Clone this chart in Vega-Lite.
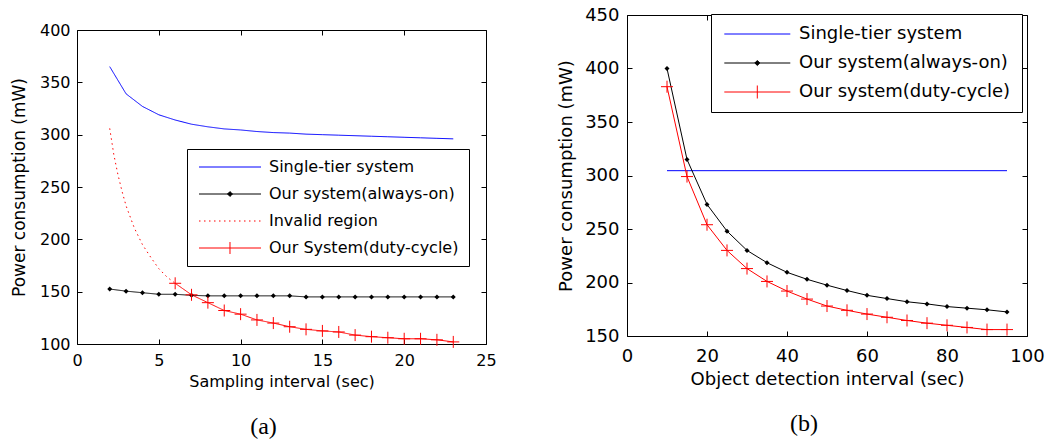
{
  "$schema": "https://vega.github.io/schema/vega-lite/v6.json",
  "padding": {"left": 9, "top": 5, "right": 0, "bottom": 0},
  "background": "white",
  "spacing": 60,
  "datasets": {
    "a": [
      {"s": "Single-tier system", "x": 2, "y": 365},
      {"s": "Single-tier system", "x": 3, "y": 339},
      {"s": "Single-tier system", "x": 4, "y": 327},
      {"s": "Single-tier system", "x": 5, "y": 319},
      {"s": "Single-tier system", "x": 6, "y": 314},
      {"s": "Single-tier system", "x": 7, "y": 310},
      {"s": "Single-tier system", "x": 8, "y": 307.5},
      {"s": "Single-tier system", "x": 9, "y": 305.5},
      {"s": "Single-tier system", "x": 10, "y": 304.5},
      {"s": "Single-tier system", "x": 11, "y": 303},
      {"s": "Single-tier system", "x": 12, "y": 302},
      {"s": "Single-tier system", "x": 13, "y": 301.5},
      {"s": "Single-tier system", "x": 14, "y": 300.5},
      {"s": "Single-tier system", "x": 15, "y": 300},
      {"s": "Single-tier system", "x": 16, "y": 299.5},
      {"s": "Single-tier system", "x": 17, "y": 299},
      {"s": "Single-tier system", "x": 18, "y": 298.5},
      {"s": "Single-tier system", "x": 19, "y": 298},
      {"s": "Single-tier system", "x": 20, "y": 297.5},
      {"s": "Single-tier system", "x": 21, "y": 297},
      {"s": "Single-tier system", "x": 22, "y": 296.5},
      {"s": "Single-tier system", "x": 23, "y": 296},
      {"s": "Our system(always-on)", "x": 2, "y": 152.5},
      {"s": "Our system(always-on)", "x": 3, "y": 150.5},
      {"s": "Our system(always-on)", "x": 4, "y": 149},
      {"s": "Our system(always-on)", "x": 5, "y": 147.5},
      {"s": "Our system(always-on)", "x": 6, "y": 147.5},
      {"s": "Our system(always-on)", "x": 7, "y": 146.5},
      {"s": "Our system(always-on)", "x": 8, "y": 146},
      {"s": "Our system(always-on)", "x": 9, "y": 146},
      {"s": "Our system(always-on)", "x": 10, "y": 146},
      {"s": "Our system(always-on)", "x": 11, "y": 146},
      {"s": "Our system(always-on)", "x": 12, "y": 146},
      {"s": "Our system(always-on)", "x": 13, "y": 146},
      {"s": "Our system(always-on)", "x": 14, "y": 145},
      {"s": "Our system(always-on)", "x": 15, "y": 145},
      {"s": "Our system(always-on)", "x": 16, "y": 145},
      {"s": "Our system(always-on)", "x": 17, "y": 145},
      {"s": "Our system(always-on)", "x": 18, "y": 145},
      {"s": "Our system(always-on)", "x": 19, "y": 145},
      {"s": "Our system(always-on)", "x": 20, "y": 145},
      {"s": "Our system(always-on)", "x": 21, "y": 145},
      {"s": "Our system(always-on)", "x": 22, "y": 145},
      {"s": "Our system(always-on)", "x": 23, "y": 145},
      {"s": "Invalid region", "x": 2, "y": 306},
      {"s": "Invalid region", "x": 2.25, "y": 281},
      {"s": "Invalid region", "x": 2.5, "y": 262},
      {"s": "Invalid region", "x": 2.75, "y": 246},
      {"s": "Invalid region", "x": 3, "y": 232},
      {"s": "Invalid region", "x": 3.5, "y": 211},
      {"s": "Invalid region", "x": 4, "y": 195},
      {"s": "Invalid region", "x": 4.5, "y": 183},
      {"s": "Invalid region", "x": 5, "y": 172},
      {"s": "Invalid region", "x": 5.5, "y": 164},
      {"s": "Invalid region", "x": 6, "y": 158},
      {"s": "Our System(duty-cycle)", "x": 6, "y": 158},
      {"s": "Our System(duty-cycle)", "x": 7, "y": 147},
      {"s": "Our System(duty-cycle)", "x": 8, "y": 139.5},
      {"s": "Our System(duty-cycle)", "x": 9, "y": 132},
      {"s": "Our System(duty-cycle)", "x": 10, "y": 128.5},
      {"s": "Our System(duty-cycle)", "x": 11, "y": 123},
      {"s": "Our System(duty-cycle)", "x": 12, "y": 120},
      {"s": "Our System(duty-cycle)", "x": 13, "y": 116.5},
      {"s": "Our System(duty-cycle)", "x": 14, "y": 114},
      {"s": "Our System(duty-cycle)", "x": 15, "y": 112.5},
      {"s": "Our System(duty-cycle)", "x": 16, "y": 111.5},
      {"s": "Our System(duty-cycle)", "x": 17, "y": 108.5},
      {"s": "Our System(duty-cycle)", "x": 18, "y": 107},
      {"s": "Our System(duty-cycle)", "x": 19, "y": 106},
      {"s": "Our System(duty-cycle)", "x": 20, "y": 105},
      {"s": "Our System(duty-cycle)", "x": 21, "y": 105},
      {"s": "Our System(duty-cycle)", "x": 22, "y": 104},
      {"s": "Our System(duty-cycle)", "x": 23, "y": 102}
    ],
    "b": [
      {"s": "Single-tier system", "x": 10, "y": 304.5},
      {"s": "Single-tier system", "x": 15, "y": 304.5},
      {"s": "Single-tier system", "x": 20, "y": 304.5},
      {"s": "Single-tier system", "x": 25, "y": 304.5},
      {"s": "Single-tier system", "x": 30, "y": 304.5},
      {"s": "Single-tier system", "x": 35, "y": 304.5},
      {"s": "Single-tier system", "x": 40, "y": 304.5},
      {"s": "Single-tier system", "x": 45, "y": 304.5},
      {"s": "Single-tier system", "x": 50, "y": 304.5},
      {"s": "Single-tier system", "x": 55, "y": 304.5},
      {"s": "Single-tier system", "x": 60, "y": 304.5},
      {"s": "Single-tier system", "x": 65, "y": 304.5},
      {"s": "Single-tier system", "x": 70, "y": 304.5},
      {"s": "Single-tier system", "x": 75, "y": 304.5},
      {"s": "Single-tier system", "x": 80, "y": 304.5},
      {"s": "Single-tier system", "x": 85, "y": 304.5},
      {"s": "Single-tier system", "x": 90, "y": 304.5},
      {"s": "Single-tier system", "x": 95, "y": 304.5},
      {"s": "Our system(always-on)", "x": 10, "y": 400},
      {"s": "Our system(always-on)", "x": 15, "y": 315},
      {"s": "Our system(always-on)", "x": 20, "y": 273},
      {"s": "Our system(always-on)", "x": 25, "y": 248},
      {"s": "Our system(always-on)", "x": 30, "y": 230},
      {"s": "Our system(always-on)", "x": 35, "y": 218.5},
      {"s": "Our system(always-on)", "x": 40, "y": 209.5},
      {"s": "Our system(always-on)", "x": 45, "y": 203},
      {"s": "Our system(always-on)", "x": 50, "y": 197.5},
      {"s": "Our system(always-on)", "x": 55, "y": 192.5},
      {"s": "Our system(always-on)", "x": 60, "y": 188},
      {"s": "Our system(always-on)", "x": 65, "y": 185},
      {"s": "Our system(always-on)", "x": 70, "y": 182},
      {"s": "Our system(always-on)", "x": 75, "y": 180},
      {"s": "Our system(always-on)", "x": 80, "y": 177.5},
      {"s": "Our system(always-on)", "x": 85, "y": 176},
      {"s": "Our system(always-on)", "x": 90, "y": 174.5},
      {"s": "Our system(always-on)", "x": 95, "y": 172.5},
      {"s": "Our system(duty-cycle)", "x": 10, "y": 383},
      {"s": "Our system(duty-cycle)", "x": 15, "y": 299},
      {"s": "Our system(duty-cycle)", "x": 20, "y": 254},
      {"s": "Our system(duty-cycle)", "x": 25, "y": 230},
      {"s": "Our system(duty-cycle)", "x": 30, "y": 213},
      {"s": "Our system(duty-cycle)", "x": 35, "y": 201},
      {"s": "Our system(duty-cycle)", "x": 40, "y": 192},
      {"s": "Our system(duty-cycle)", "x": 45, "y": 184.5},
      {"s": "Our system(duty-cycle)", "x": 50, "y": 178},
      {"s": "Our system(duty-cycle)", "x": 55, "y": 174},
      {"s": "Our system(duty-cycle)", "x": 60, "y": 170.5},
      {"s": "Our system(duty-cycle)", "x": 65, "y": 167.5},
      {"s": "Our system(duty-cycle)", "x": 70, "y": 164.5},
      {"s": "Our system(duty-cycle)", "x": 75, "y": 162},
      {"s": "Our system(duty-cycle)", "x": 80, "y": 160},
      {"s": "Our system(duty-cycle)", "x": 85, "y": 158},
      {"s": "Our system(duty-cycle)", "x": 90, "y": 156},
      {"s": "Our system(duty-cycle)", "x": 95, "y": 156}
    ]
  },
  "hconcat": [
    {
      "spacing": 5,
      "resolve": {"scale": {"color": "independent", "strokeDash": "independent"}, "legend": {"color": "independent"}},
      "vconcat": [
        {
          "width": 1,
          "height": 1,
          "view": {"stroke": null},
          "data": {"values": [{"k": 1}]},
          "mark": {"type": "point", "opacity": 0, "size": 0},
          "encoding": {}
        },
        {
          "width": 409,
          "height": 314,
          "data": {"name": "a"},
          "title": {"text": "(a)", "orient": "bottom", "frame": "group", "anchor": "middle", "dx": -18, "offset": 26, "font": "Liberation Serif", "fontSize": 24, "fontWeight": "normal", "color": "black"},
          "layer": [
            {
              "mark": {"type": "line", "strokeWidth": 1},
              "encoding": {
                "x": {"field": "x", "type": "quantitative", "scale": {"domain": [0, 25], "nice": false, "zero": false},
                      "axis": {"title": "Sampling interval (sec)", "values": [0, 5, 10, 15, 20, 25], "labelPadding": 8, "titlePadding": 5}},
                "y": {"field": "y", "type": "quantitative", "scale": {"domain": [100, 400], "nice": false, "zero": false},
                      "axis": {"title": "Power consumption (mW)", "titleFontSize": 17, "values": [100, 150, 200, 250, 300, 350, 400], "labelPadding": 7, "titlePadding": 11}},
                "color": {"field": "s", "type": "nominal",
                          "scale": {"domain": ["Single-tier system", "Our system(always-on)", "Invalid region", "Our System(duty-cycle)"], "range": ["#0000ff", "#000000", "#ff0000", "#ff0000"]},
                          "legend": {"orient": "none", "legendX": 110, "legendY": 119, "padding": 10, "title": null,
                                     "strokeColor": "black", "fillColor": "white", "cornerRadius": 0,
                                     "symbolType": "M-0.857,0H8", "symbolSize": 196, "symbolStrokeWidth": 1,
                                     "labelFont": "DejaVu Sans", "labelFontSize": 16, "labelColor": "black", "labelOffset": 56, "labelLimit": 400,
                                     "labelExpr": "datum.label + '  '",
                                     "rowPadding": 11,
                                     "encode": {"symbols": {"update": {
                                       "shape": [
                                         {"test": "datum.value === 'Our system(always-on)'", "value": "M-0.857,0H8M3.571,-0.357L3.928,0L3.571,0.357L3.214,0Z"},
                                         {"test": "datum.value === 'Our System(duty-cycle)'", "value": "M-0.857,0H8M3.571,-0.857V0.857"},
                                         {"value": "M-0.857,0H8"}
                                       ],
                                       "fill": [{"test": "datum.value === 'Our system(always-on)'", "value": "black"}, {"value": "transparent"}],
                                       "strokeDash": [{"test": "datum.value === 'Invalid region'", "value": [1.5, 3.5]}, {"value": [1, 0]}],
                                       "strokeWidth": {"value": 1},
                                       "opacity": {"value": 1}
                                     }}}}},
                "strokeDash": {"field": "s", "type": "nominal",
                               "scale": {"domain": ["Single-tier system", "Our system(always-on)", "Invalid region", "Our System(duty-cycle)"], "range": [[1, 0], [1, 0], [1.5, 3.5], [1, 0]]},
                               "legend": null}
              }
            },
            {
              "transform": [{"filter": "datum.s === 'Our system(always-on)'"}],
              "mark": {"type": "point", "shape": "diamond", "filled": true, "size": 25, "opacity": 1, "color": "#000000"},
              "encoding": {
                "x": {"field": "x", "type": "quantitative",
                      "axis": {"orient": "top", "title": null, "labels": false, "values": [0, 5, 10, 15, 20, 25]}},
                "y": {"field": "y", "type": "quantitative",
                      "axis": {"orient": "right", "title": null, "labels": false, "values": [100, 150, 200, 250, 300, 350, 400]}}
              }
            },
            {
              "transform": [{"filter": "datum.s === 'Our System(duty-cycle)'"}],
              "mark": {"type": "point", "shape": "M-1,0H1M0,-1V1", "filled": false, "size": 144, "strokeWidth": 1, "opacity": 1, "color": "#ff0000"},
              "encoding": {
                "x": {"field": "x", "type": "quantitative", "axis": null},
                "y": {"field": "y", "type": "quantitative", "axis": null}
              }
            }
          ],
          "resolve": {"axis": {"x": "independent", "y": "independent"}}
        }
      ]
    },
    {
      "width": 400,
      "height": 321,
      "data": {"name": "b"},
      "title": {"text": "(b)", "orient": "bottom", "frame": "group", "anchor": "middle", "dx": -23, "offset": 24, "font": "Liberation Serif", "fontSize": 24, "fontWeight": "normal", "color": "black"},
      "layer": [
        {
          "mark": {"type": "line", "strokeWidth": 1},
          "encoding": {
            "x": {"field": "x", "type": "quantitative", "scale": {"domain": [0, 100], "nice": false, "zero": false},
                  "axis": {"title": "Object detection interval (sec)", "labelFontSize": 18, "titleFontSize": 18, "values": [0, 20, 40, 60, 80, 100], "labelPadding": 11, "titlePadding": 5}},
            "y": {"field": "y", "type": "quantitative", "scale": {"domain": [150, 450], "nice": false, "zero": false},
                  "axis": {"title": "Power consumption (mW)", "labelFontSize": 18, "titleFontSize": 18, "values": [150, 200, 250, 300, 350, 400, 450], "labelPadding": 8, "titlePadding": 9}},
            "color": {"field": "s", "type": "nominal",
                      "scale": {"domain": ["Single-tier system", "Our system(always-on)", "Our system(duty-cycle)"], "range": ["#0000ff", "#000000", "#ff0000"]},
                      "legend": {"orient": "none", "legendX": 84, "legendY": -1, "title": null, "padding": 11,
                                 "strokeColor": "black", "fillColor": "white", "cornerRadius": 0,
                                 "symbolType": "M-0.957,0H8.471", "symbolSize": 196, "symbolStrokeWidth": 1,
                                 "labelFont": "DejaVu Sans", "labelFontSize": 18, "labelColor": "black", "labelOffset": 59, "labelLimit": 400,
                                 "rowPadding": 11,
                                 "encode": {"symbols": {"update": {
                                   "shape": [
                                     {"test": "datum.value === 'Our system(always-on)'", "value": "M-0.957,0H8.471M3.757,-0.357L4.114,0L3.757,0.357L3.4,0Z"},
                                     {"test": "datum.value === 'Our system(duty-cycle)'", "value": "M-0.957,0H8.471M3.757,-0.93V0.93"},
                                     {"value": "M-0.957,0H8.471"}
                                   ],
                                   "fill": [{"test": "datum.value === 'Our system(always-on)'", "value": "black"}, {"value": "transparent"}],
                                   "strokeWidth": {"value": 1},
                                   "opacity": {"value": 1}
                                 }}}}}
          }
        },
        {
          "transform": [{"filter": "datum.s === 'Our system(always-on)'"}],
          "mark": {"type": "point", "shape": "diamond", "filled": true, "size": 25, "opacity": 1, "color": "#000000"},
          "encoding": {
            "x": {"field": "x", "type": "quantitative",
                  "axis": {"orient": "top", "title": null, "labels": false, "values": [0, 20, 40, 60, 80, 100]}},
            "y": {"field": "y", "type": "quantitative",
                  "axis": {"orient": "right", "title": null, "labels": false, "values": [150, 200, 250, 300, 350, 400, 450]}}
          }
        },
        {
          "transform": [{"filter": "datum.s === 'Our system(duty-cycle)'"}],
          "mark": {"type": "point", "shape": "M-1,0H1M0,-1V1", "filled": false, "size": 144, "strokeWidth": 1, "opacity": 1, "color": "#ff0000"},
          "encoding": {
            "x": {"field": "x", "type": "quantitative", "axis": null},
            "y": {"field": "y", "type": "quantitative", "axis": null}
          }
        }
      ],
      "resolve": {"axis": {"x": "independent", "y": "independent"}}
    }
  ],
  "resolve": {
    "scale": {"x": "independent", "y": "independent", "color": "independent", "strokeDash": "independent"},
    "legend": {"color": "independent"}
  },
  "config": {
    "view": {"stroke": "black", "strokeWidth": 1},
    "font": "DejaVu Sans",
    "axis": {
      "labelFont": "DejaVu Sans", "labelFontSize": 16, "labelColor": "black",
      "titleFont": "DejaVu Sans", "titleFontSize": 16, "titleFontWeight": "normal", "titleColor": "black",
      "domain": false, "tickColor": "black", "tickSize": 5, "offset": -5, "tickWidth": 1, "grid": false,
      "labelFlush": false, "labelOverlap": false, "labelBound": false
    }
  }
}
